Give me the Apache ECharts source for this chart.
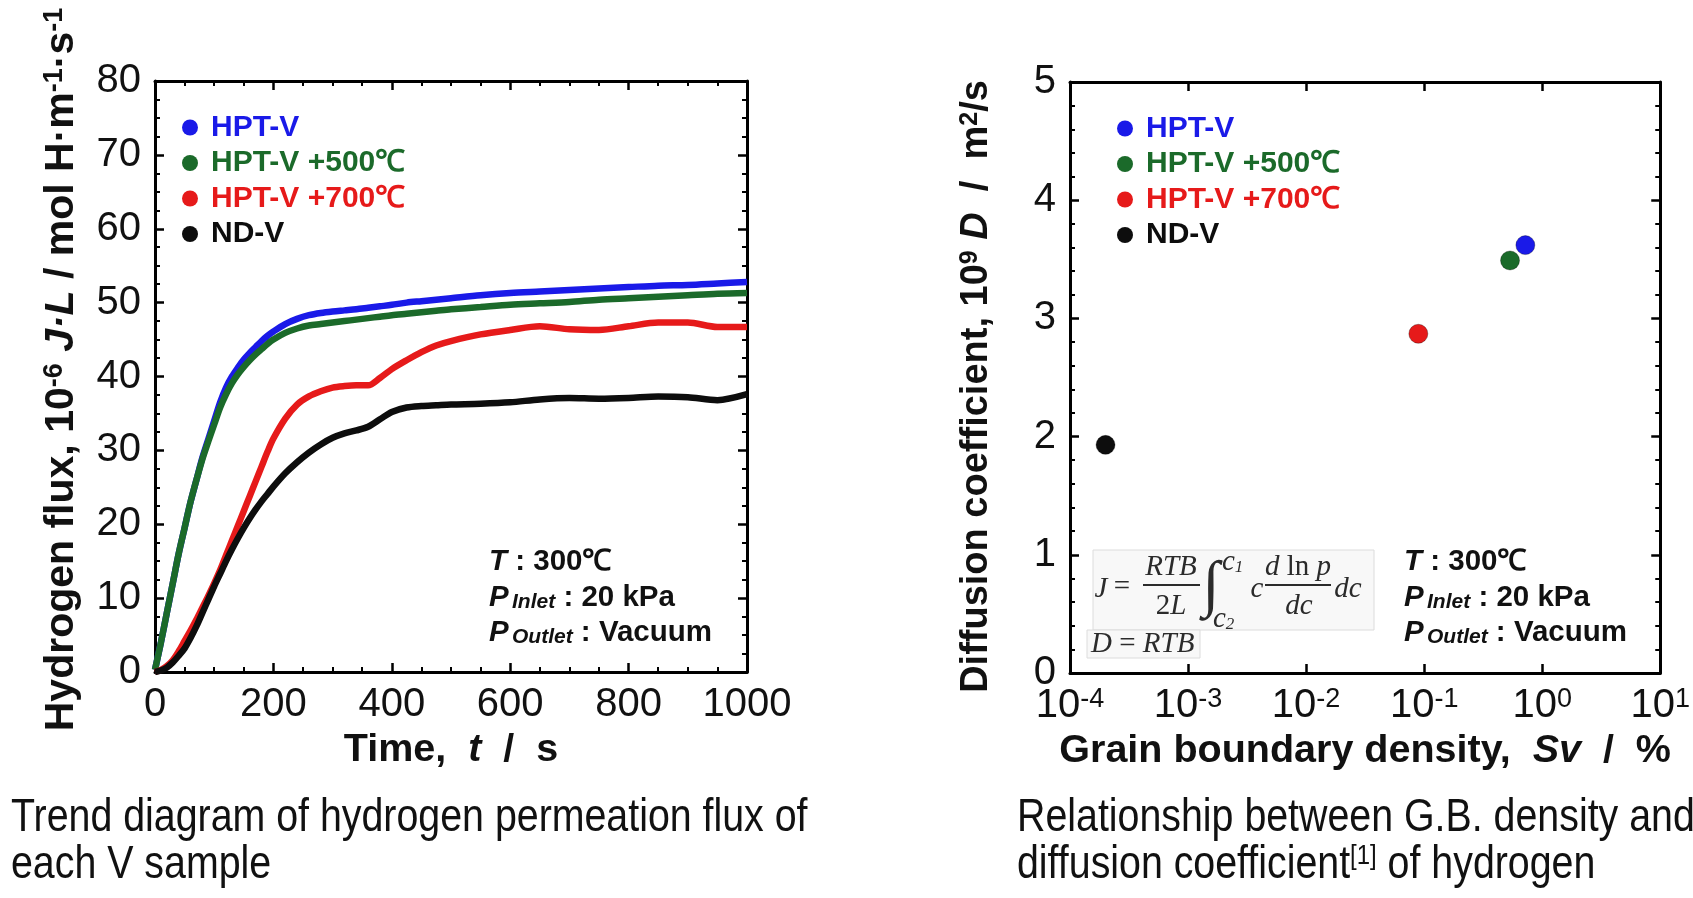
<!DOCTYPE html>
<html>
<head>
<meta charset="utf-8">
<script src="https://cdn.jsdelivr.net/npm/echarts@6/dist/echarts.min.js"></script>
<style>
html,body{margin:0;padding:0;background:#fff;}
#chart{width:1693px;height:898px;}
</style>
</head>
<body>
<div id="chart"></div>
<script>
// ---------------- DATA ----------------
const sampleNames = ['HPT-V', 'HPT-V +500℃', 'HPT-V +700℃', 'ND-V'];
const sampleColors = ['#1a1ae8', '#1b6a2a', '#e61a1a', '#0d0d0d'];

// Left chart: hydrogen flux vs time
const timeS = [0,10,20,30,40,50,60,70,80,90,100,110,120,130,140,150,160,170,180,190,200,220,240,260,280,300,320,340,360,380,400,425,450,475,500,550,600,650,700,750,800,850,900,950,1000];
const fluxHPT = [0.3,4,8,12,16,19.5,23,26,29,31.5,34,36.5,38.5,40,41.2,42.3,43.2,44,44.8,45.5,46.1,47.1,47.8,48.3,48.6,48.8,48.95,49.1,49.3,49.5,49.7,50.0,50.2,50.4,50.6,51.0,51.3,51.5,51.7,51.9,52.1,52.3,52.4,52.6,52.8];
const fluxHPT500 = [0.3,4,8,12,16,19.5,23,26,28.8,31.2,33.5,35.8,37.6,39.1,40.3,41.3,42.2,43,43.7,44.4,45,45.9,46.5,46.9,47.1,47.3,47.5,47.7,47.9,48.1,48.3,48.5,48.7,48.9,49.1,49.4,49.7,49.9,50.1,50.4,50.6,50.8,51.0,51.2,51.3];
const fluxHPT700 = [0,0.3,0.8,1.6,2.8,4.2,5.6,7.1,8.7,10.3,12,13.8,15.8,17.8,19.8,21.8,23.8,25.8,27.8,29.8,31.6,34.3,36.2,37.3,38.0,38.5,38.7,38.8,38.8,39.8,41,42.2,43.3,44.2,44.8,45.7,46.3,46.8,46.4,46.3,46.8,47.3,47.3,46.7,46.7];
const fluxND = [0,0.2,0.6,1.3,2.2,3.2,4.6,6.2,8,9.8,11.6,13.3,15,16.6,18.1,19.5,20.8,22,23.1,24.1,25.1,26.9,28.4,29.7,30.8,31.7,32.3,32.7,33.2,34.2,35.2,35.8,36.0,36.1,36.2,36.3,36.5,36.9,37.1,37.0,37.1,37.3,37.2,36.8,37.6];

// Right chart: diffusion coefficient vs grain boundary density
const gbDensity = [0.72, 0.534, 0.0893, 0.0002];   // Sv, %
const diffCoef = [3.62, 3.49, 2.87, 1.93];         // 10^9 D, m^2/s

// Tick settings
const fluxTicks = {min: 0, max: 80, interval: 10};
const timeTicks = {min: 0, max: 1000, interval: 200};
const diffTicks = {min: 0, max: 5, interval: 1};
const densTicks = {min: 1e-4, max: 10};

// Captions
const captionLeft = ['Trend diagram of hydrogen permeation flux of', 'each V sample'];
const captionRight = ['Relationship between G.B. density and', 'diffusion coefficient', '[1]', ' of hydrogen'];

// ---------------- CHART ----------------
const FF = '"Liberation Sans", Arial, Helvetica, sans-serif';
const SERIF = '"Liberation Serif", "DejaVu Serif", serif';
const chart = echarts.init(document.getElementById('chart'), null, {renderer: 'canvas'});

const frameLine = {show: true, onZero: false, lineStyle: {color: '#000', width: 3}};
const tickIn = (len) => ({show: true, inside: true, length: len, lineStyle: {color: '#000', width: 2.5}});
const minorIn = (n) => ({show: true, splitNumber: n, length: 5, lineStyle: {color: '#000', width: 2}});
const labelStyle = {fontSize: 40, color: '#111', fontFamily: FF, formatter: function (v) { return String(v); }};
const nameStyle = (fs, extra) => Object.assign({
  fontSize: fs, fontWeight: 'bold', color: '#111', fontFamily: FF,
  rich: {
    i: {fontSize: fs, fontWeight: 'bold', fontStyle: 'italic', color: '#111', fontFamily: FF},
    sup: {fontSize: Math.round(fs * 0.66), fontWeight: 'bold', color: '#111', fontFamily: FF, verticalAlign: 'top'}
  }
}, extra || {});

function mirrorAxis(base, pos) {
  return Object.assign({}, base, {position: pos, name: '', axisLabel: {show: false}});
}

const xLeft = {
  gridIndex: 0, type: 'value', min: timeTicks.min, max: timeTicks.max, interval: timeTicks.interval,
  position: 'bottom', axisLine: frameLine, axisTick: tickIn(9), minorTick: minorIn(4),
  splitLine: {show: false}, minorSplitLine: {show: false},
  axisLabel: Object.assign({margin: 13}, labelStyle),
  name: 'Time,  {i|t}  /  s', nameLocation: 'middle', nameGap: 49, nameTextStyle: nameStyle(39.5)
};
const yLeft = {
  gridIndex: 0, type: 'value', min: fluxTicks.min, max: fluxTicks.max, interval: fluxTicks.interval,
  position: 'left', axisLine: frameLine, axisTick: tickIn(9), minorTick: minorIn(4),
  splitLine: {show: false}, minorSplitLine: {show: false},
  axisLabel: Object.assign({margin: 14}, labelStyle),
  name: 'Hydrogen flux, 10{sup|-6} {i|J·L} / mol H·m{sup|-1}·s{sup|-1}',
  nameLocation: 'middle', nameGap: 73, nameRotate: 90, nameTextStyle: nameStyle(41, {padding: [0, 0, 0, 14]})
};
const xRight = {
  gridIndex: 1, type: 'log', logBase: 10, min: densTicks.min, max: densTicks.max, interval: 1,
  position: 'bottom', axisLine: frameLine, axisTick: tickIn(9),
  splitLine: {show: false}, minorSplitLine: {show: false},
  axisLabel: {
    margin: 13,
    formatter: function (v) { const e = Math.round(Math.log10(v)); return '{b|10}{s|' + e + '}'; },
    rich: {
      b: {fontSize: 40, color: '#111', fontFamily: FF},
      s: {fontSize: 27, color: '#111', fontFamily: FF, verticalAlign: 'top'}
    }
  },
  name: 'Grain boundary density,  {i|Sv}  /  %', nameLocation: 'middle', nameGap: 49, nameTextStyle: nameStyle(39.5)
};
const yRight = {
  gridIndex: 1, type: 'value', min: diffTicks.min, max: diffTicks.max, interval: diffTicks.interval,
  position: 'left', axisLine: frameLine, axisTick: tickIn(9), minorTick: minorIn(5),
  splitLine: {show: false}, minorSplitLine: {show: false},
  axisLabel: Object.assign({margin: 14}, labelStyle),
  name: 'Diffusion coefficient, 10{sup|9} {i|D}  /  m{sup|2}/s',
  nameLocation: 'middle', nameGap: 74, nameRotate: 90, nameTextStyle: nameStyle(38, {padding: [0, 18, 0, 0]})
};

const fluxSets = [fluxHPT, fluxHPT500, fluxHPT700, fluxND];
const series = [];
fluxSets.forEach(function (arr, k) {
  series.push({
    type: 'line', name: sampleNames[k], xAxisIndex: 0, yAxisIndex: 0,
    data: timeS.map(function (t, i) { return [t, arr[i]]; }),
    showSymbol: false, smooth: 0.3, z: 3 + k,
    lineStyle: {color: sampleColors[k], width: 6.5},
    itemStyle: {color: sampleColors[k]}
  });
});
sampleNames.forEach(function (n, k) {
  series.push({
    type: 'scatter', name: n, xAxisIndex: 2, yAxisIndex: 2,
    data: [[gbDensity[k], diffCoef[k]]], symbolSize: 19, z: 5,
    itemStyle: {color: sampleColors[k], opacity: 1, borderColor: 'rgba(0,0,0,0.3)', borderWidth: 1}
  });
});

function legendCfg(left, top) {
  return {
    left: left, top: top, orient: 'vertical', icon: 'circle', itemWidth: 16, itemHeight: 16,
    itemGap: 5.5, padding: 0, selectedMode: false,
    textStyle: {fontSize: 30, lineHeight: 30, fontWeight: 'bold', fontFamily: FF, padding: [0, 0, 0, 8]},
    data: sampleNames.map(function (n, k) { return {name: n, textStyle: {color: sampleColors[k]}}; })
  };
}

function condText(x, y) {
  const rich = {
    bi: {fontSize: 29.5, fontWeight: 'bold', fontStyle: 'italic', fontFamily: FF, fill: '#111'},
    b: {fontSize: 29.5, fontWeight: 'bold', fontFamily: FF, fill: '#111'},
    sm: {fontSize: 21, fontWeight: 'bold', fontStyle: 'italic', fontFamily: FF, fill: '#111', verticalAlign: 'bottom', padding: [6, 0, 0, 0]}
  };
  return [
    {type: 'text', left: x, top: y - 14, style: {text: '{bi|T}{b| : 300℃}', rich: rich}},
    {type: 'text', left: x, top: y + 22, style: {text: '{bi|P} {sm|Inlet}{b| : 20 kPa}', rich: rich}},
    {type: 'text', left: x, top: y + 57, style: {text: '{bi|P} {sm|Outlet}{b| : Vacuum}', rich: rich}}
  ];
}

const MC = '#2b2b2b';
const mi = {fontSize: 29, fontStyle: 'italic', fontFamily: SERIF, fill: MC};
const mu = {fontSize: 29, fontFamily: SERIF, fill: MC};
function mtext(x, y, txt, align) {
  return {type: 'text', x: x, y: y, z: 20, style: {text: txt, align: align || 'center', verticalAlign: 'middle',
    rich: {i: mi, u: mu, s: {fontSize: 17, fontStyle: 'italic', fontFamily: SERIF, fill: MC, verticalAlign: 'bottom'}}}};
}
const formula = [
  {type: 'rect', z: 10, shape: {x: 1093, y: 550, width: 281, height: 80}, style: {fill: '#f8f8f8', stroke: '#dcdcdc', lineWidth: 1}},
  {type: 'rect', z: 10, shape: {x: 1087, y: 630, width: 113, height: 28}, style: {fill: '#f8f8f8', stroke: '#dcdcdc', lineWidth: 1}},
  mtext(1101, 589, '{i|J}'),
  mtext(1122, 587, '{u|=}'),
  mtext(1171, 567, '{i|RTB}'),
  {type: 'line', z: 20, shape: {x1: 1143, y1: 585, x2: 1200, y2: 585}, style: {stroke: MC, lineWidth: 1.8}},
  mtext(1171, 606, '{u|2}{i|L}'),
  {type: 'text', z: 20, x: 1211, y: 588, style: {text: '∫', fontSize: 62, fontFamily: SERIF, fill: MC, align: 'center', verticalAlign: 'middle'}},
  mtext(1222, 562, '{i|c}{s|1}', 'left'),
  mtext(1213, 619, '{i|c}{s|2}', 'left'),
  mtext(1257, 589, '{i|c}'),
  mtext(1298, 567, '{i|d}{u| ln }{i|p}'),
  {type: 'line', z: 20, shape: {x1: 1265, y1: 585, x2: 1331, y2: 585}, style: {stroke: MC, lineWidth: 1.8}},
  mtext(1299, 606, '{i|dc}'),
  mtext(1348, 589, '{i|dc}'),
  mtext(1091, 644, '{i|D}{u| = }{i|RTB}', 'left')
];

const capStyle = {fontSize: 46, fontFamily: FF, fill: '#111', verticalAlign: 'middle'};
const CAP_SX = 0.855;
const captions = [
  {type: 'text', x: 11, y: 818, scaleX: CAP_SX, style: Object.assign({text: captionLeft[0]}, capStyle)},
  {type: 'text', x: 11, y: 865, scaleX: CAP_SX, style: Object.assign({text: captionLeft[1]}, capStyle)},
  {type: 'text', x: 1017, y: 818, scaleX: CAP_SX, style: Object.assign({text: captionRight[0]}, capStyle)},
  {type: 'text', x: 1017, y: 865, scaleX: CAP_SX, style: {
    text: '{n|' + captionRight[1] + '}{s|' + captionRight[2] + '}{n|' + captionRight[3] + '}',
    verticalAlign: 'middle',
    rich: {n: {fontSize: 46, fontFamily: FF, fill: '#111'}, s: {fontSize: 28, fontFamily: FF, fill: '#111', verticalAlign: 'top'}}
  }}
];

const option = {
  animation: false,
  backgroundColor: '#ffffff',
  grid: [
    {left: 155, top: 81, width: 592, height: 591},
    {left: 1070, top: 82, width: 591, height: 591}
  ],
  xAxis: [xLeft, mirrorAxis(xLeft, 'top'), xRight, mirrorAxis(xRight, 'top')],
  yAxis: [yLeft, mirrorAxis(yLeft, 'right'), yRight, mirrorAxis(yRight, 'right')],
  legend: [legendCfg(182, 112.5), legendCfg(1117, 113.5)],
  series: series,
  graphic: [].concat(condText(489, 561), condText(1404, 561), formula, captions)
};
chart.setOption(option);
</script>
</body>
</html>
